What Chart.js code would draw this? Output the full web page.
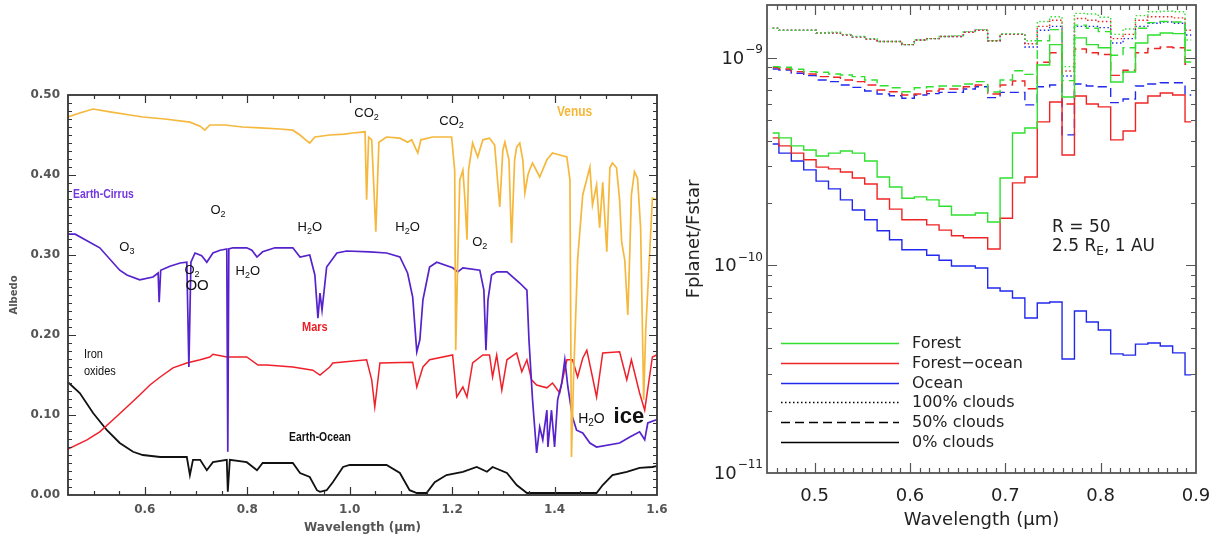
<!DOCTYPE html>
<html>
<head>
<meta charset="utf-8">
<script src="https://cdn.jsdelivr.net/npm/chart.js@4.4.1/dist/chart.umd.min.js"></script>
<style>
  html, body { margin: 0; padding: 0; background: #fff; overflow: hidden; }
  #wrap { position: relative; width: 1231px; height: 541px; }
  #albedo { position: absolute; left: 0; top: 0; }
  #flux { position: absolute; left: 680px; top: 0; }
</style>
</head>
<body>
<div id="wrap">
  <canvas id="albedo" width="680" height="541"></canvas>
  <canvas id="flux" width="551" height="541"></canvas>
</div>
<script>
// ---- left panel: albedo spectra ----
const venusWave = [0.450, 0.473, 0.499, 0.532, 0.571, 0.596, 0.639, 0.688, 0.708, 0.717, 0.727, 0.756, 0.791, 0.825, 0.864, 0.889, 0.903, 0.914, 0.922, 0.932, 0.961, 0.990, 1.006, 1.030, 1.033, 1.037, 1.043, 1.051, 1.057, 1.072, 1.098, 1.113, 1.121, 1.133, 1.139, 1.162, 1.199, 1.205, 1.207, 1.211, 1.215, 1.221, 1.225, 1.229, 1.232, 1.240, 1.250, 1.260, 1.273, 1.283, 1.293, 1.299, 1.303, 1.311, 1.316, 1.322, 1.326, 1.332, 1.338, 1.342, 1.348, 1.351, 1.357, 1.371, 1.385, 1.396, 1.410, 1.424, 1.430, 1.433, 1.437, 1.445, 1.455, 1.469, 1.474, 1.482, 1.488, 1.494, 1.502, 1.508, 1.513, 1.521, 1.527, 1.531, 1.537, 1.543, 1.547, 1.550, 1.556, 1.562, 1.568, 1.574, 1.578, 1.586, 1.591, 1.599];
const venusAlbedo = [0.4725, 0.4775, 0.4825, 0.479, 0.475, 0.4725, 0.47, 0.466, 0.461, 0.456, 0.4625, 0.4625, 0.46, 0.459, 0.4575, 0.456, 0.45, 0.444, 0.44, 0.4475, 0.45, 0.451, 0.4525, 0.454, 0.369, 0.4475, 0.444, 0.329, 0.441, 0.4475, 0.446, 0.441, 0.444, 0.4275, 0.444, 0.4475, 0.4475, 0.406, 0.181, 0.294, 0.394, 0.406, 0.369, 0.319, 0.406, 0.44, 0.4225, 0.444, 0.446, 0.4375, 0.36, 0.431, 0.441, 0.419, 0.315, 0.419, 0.435, 0.44, 0.419, 0.3775, 0.4, 0.406, 0.415, 0.3975, 0.419, 0.4275, 0.425, 0.4225, 0.394, 0.0475, 0.144, 0.294, 0.375, 0.41, 0.3625, 0.3875, 0.334, 0.391, 0.304, 0.409, 0.415, 0.409, 0.369, 0.316, 0.294, 0.225, 0.306, 0.375, 0.404, 0.396, 0.334, 0.119, 0.206, 0.306, 0.371, 0.369];

const cirrusWave = [0.450, 0.464, 0.512, 0.551, 0.565, 0.590, 0.616, 0.626, 0.628, 0.631, 0.649, 0.669, 0.682, 0.686, 0.690, 0.698, 0.711, 0.721, 0.733, 0.747, 0.760, 0.762, 0.764, 0.772, 0.799, 0.809, 0.819, 0.830, 0.854, 0.889, 0.903, 0.922, 0.932, 0.938, 0.942, 0.946, 0.955, 0.975, 0.994, 1.039, 1.072, 1.098, 1.113, 1.123, 1.131, 1.137, 1.143, 1.156, 1.170, 1.201, 1.211, 1.221, 1.254, 1.262, 1.266, 1.270, 1.277, 1.287, 1.307, 1.332, 1.346, 1.350, 1.357, 1.365, 1.371, 1.377, 1.385, 1.387, 1.394, 1.400, 1.406, 1.414, 1.420, 1.426, 1.435, 1.443, 1.455, 1.469, 1.482, 1.527, 1.547, 1.566, 1.576, 1.582, 1.599];
const cirrusAlbedo = [0.326, 0.326, 0.309, 0.281, 0.275, 0.269, 0.2725, 0.2775, 0.241, 0.281, 0.286, 0.29, 0.291, 0.16, 0.291, 0.3025, 0.299, 0.291, 0.3025, 0.306, 0.3075, 0.054, 0.3075, 0.309, 0.309, 0.306, 0.2975, 0.304, 0.309, 0.309, 0.2975, 0.30, 0.275, 0.221, 0.2525, 0.231, 0.285, 0.3025, 0.305, 0.304, 0.3025, 0.2975, 0.2775, 0.2475, 0.179, 0.194, 0.244, 0.285, 0.291, 0.284, 0.279, 0.284, 0.281, 0.256, 0.181, 0.244, 0.275, 0.279, 0.279, 0.265, 0.256, 0.194, 0.119, 0.0525, 0.085, 0.069, 0.106, 0.06, 0.106, 0.06, 0.119, 0.14, 0.169, 0.135, 0.0975, 0.081, 0.0775, 0.065, 0.06, 0.065, 0.0725, 0.079, 0.069, 0.09, 0.094];

const marsWave = [0.450, 0.487, 0.512, 0.538, 0.565, 0.590, 0.610, 0.630, 0.655, 0.682, 0.708, 0.727, 0.733, 0.760, 0.799, 0.821, 0.838, 0.889, 0.928, 0.942, 0.961, 0.967, 1.033, 1.043, 1.049, 1.059, 1.123, 1.131, 1.143, 1.156, 1.201, 1.209, 1.221, 1.229, 1.240, 1.260, 1.273, 1.279, 1.287, 1.297, 1.307, 1.326, 1.336, 1.346, 1.355, 1.365, 1.385, 1.396, 1.410, 1.424, 1.435, 1.445, 1.455, 1.463, 1.474, 1.482, 1.494, 1.527, 1.541, 1.550, 1.566, 1.576, 1.591, 1.599];
const marsAlbedo = [0.0575, 0.069, 0.079, 0.094, 0.11, 0.125, 0.1375, 0.1475, 0.159, 0.165, 0.169, 0.1725, 0.176, 0.1725, 0.1725, 0.1625, 0.1625, 0.16, 0.156, 0.15, 0.16, 0.165, 0.169, 0.144, 0.11, 0.165, 0.166, 0.135, 0.16, 0.169, 0.175, 0.1225, 0.135, 0.1225, 0.165, 0.175, 0.175, 0.1475, 0.175, 0.131, 0.169, 0.1775, 0.154, 0.169, 0.144, 0.1375, 0.134, 0.14, 0.1275, 0.169, 0.169, 0.1475, 0.171, 0.181, 0.1475, 0.1225, 0.1775, 0.179, 0.144, 0.169, 0.1275, 0.106, 0.1725, 0.175];

const oceanWave = [0.450, 0.473, 0.499, 0.526, 0.551, 0.577, 0.596, 0.630, 0.682, 0.688, 0.694, 0.708, 0.721, 0.733, 0.760, 0.762, 0.766, 0.799, 0.819, 0.830, 0.889, 0.903, 0.922, 0.936, 0.942, 0.955, 0.967, 0.987, 1.000, 1.072, 1.098, 1.117, 1.131, 1.150, 1.166, 1.189, 1.221, 1.248, 1.268, 1.279, 1.307, 1.326, 1.346, 1.396, 1.482, 1.494, 1.513, 1.541, 1.566, 1.591, 1.599];
const oceanAlbedo = [0.141, 0.1275, 0.1025, 0.081, 0.065, 0.054, 0.05, 0.0475, 0.0475, 0.025, 0.044, 0.044, 0.031, 0.041, 0.044, 0.004, 0.044, 0.041, 0.031, 0.04, 0.04, 0.0275, 0.0225, 0.006, 0.004, 0.006, 0.016, 0.035, 0.0375, 0.0375, 0.0275, 0.006, 0.0025, 0.0025, 0.016, 0.025, 0.029, 0.035, 0.029, 0.035, 0.0275, 0.0125, 0.0025, 0.0025, 0.0025, 0.0125, 0.025, 0.029, 0.034, 0.035, 0.036];

const albedoXLabels = [0.6, 0.8, 1.0, 1.2, 1.4, 1.6];
const albedoYLabels = [0, 0.1, 0.2, 0.3, 0.4, 0.5];

// ---- right panel: planet/star contrast, R = 50 bins ----
const waveR = [0.456, 0.469, 0.482, 0.495, 0.508, 0.521, 0.533, 0.546, 0.559, 0.572, 0.585, 0.598, 0.611, 0.624, 0.637, 0.650, 0.662, 0.675, 0.688, 0.701, 0.714, 0.727, 0.740, 0.753, 0.766, 0.779, 0.791, 0.804, 0.817, 0.830, 0.843, 0.856, 0.869, 0.882, 0.895];

const forest0 = [4.35e-10, 4.12e-10, 3.77e-10, 3.60e-10, 3.37e-10, 3.48e-10, 3.56e-10, 3.48e-10, 3.19e-10, 2.67e-10, 2.39e-10, 2.11e-10, 2.14e-10, 2.07e-10, 1.93e-10, 1.75e-10, 1.75e-10, 1.79e-10, 1.62e-10, 2.64e-10, 4.35e-10, 4.60e-10, 9.25e-10, 1.16e-9, 6.49e-10, 1.25e-9, 1.16e-9, 1.12e-9, 7.66e-10, 8.56e-10, 1.18e-9, 1.29e-9, 1.32e-9, 1.31e-9, 9.57e-10];
const forestOcean0 = [4.12e-10, 3.77e-10, 3.48e-10, 3.23e-10, 2.98e-10, 2.92e-10, 2.82e-10, 2.64e-10, 2.47e-10, 2.09e-10, 1.87e-10, 1.66e-10, 1.66e-10, 1.57e-10, 1.48e-10, 1.39e-10, 1.36e-10, 1.36e-10, 1.20e-10, 1.69e-10, 2.50e-10, 2.67e-10, 4.92e-10, 6.14e-10, 3.41e-10, 6.56e-10, 6.00e-10, 5.81e-10, 4.03e-10, 4.45e-10, 6.07e-10, 6.56e-10, 6.78e-10, 6.63e-10, 4.92e-10];
const ocean0 = [3.85e-10, 3.48e-10, 3.19e-10, 2.89e-10, 2.55e-10, 2.34e-10, 2.07e-10, 1.85e-10, 1.66e-10, 1.47e-10, 1.33e-10, 1.19e-10, 1.19e-10, 1.12e-10, 1.06e-10, 9.94e-11, 9.94e-11, 9.72e-11, 7.79e-11, 7.54e-11, 6.97e-11, 5.58e-11, 6.60e-11, 6.67e-11, 3.54e-11, 6.03e-11, 5.34e-11, 4.89e-11, 3.75e-11, 3.70e-11, 4.18e-11, 4.23e-11, 4.09e-11, 3.79e-11, 2.97e-11];

const forest50 = [9.08e-10, 9.02e-10, 8.82e-10, 8.59e-10, 8.53e-10, 8.37e-10, 8.28e-10, 8.13e-10, 7.83e-10, 7.35e-10, 7.19e-10, 6.88e-10, 7.19e-10, 7.27e-10, 7.33e-10, 7.33e-10, 7.49e-10, 7.69e-10, 6.86e-10, 7.83e-10, 8.68e-10, 8.34e-10, 1.21e-9, 1.37e-9, 7.78e-10, 1.44e-9, 1.39e-9, 1.34e-9, 1.03e-9, 1.12e-9, 1.39e-9, 1.48e-9, 1.50e-9, 1.49e-9, 1.09e-9];
const forestOcean50 = [8.98e-10, 8.85e-10, 8.59e-10, 8.37e-10, 8.13e-10, 8.07e-10, 7.83e-10, 7.69e-10, 7.41e-10, 7.01e-10, 6.88e-10, 6.63e-10, 6.71e-10, 6.93e-10, 7.09e-10, 7.09e-10, 7.27e-10, 7.41e-10, 6.71e-10, 7.41e-10, 7.75e-10, 7.11e-10, 9.54e-10, 1.06e-9, 6.00e-10, 1.105e-9, 1.06e-9, 1.04e-9, 8.24e-10, 8.72e-10, 1.06e-9, 1.11e-9, 1.13e-9, 1.12e-9, 9.33e-10];
const ocean50 = [8.85e-10, 8.75e-10, 8.44e-10, 8.22e-10, 7.83e-10, 7.69e-10, 7.41e-10, 7.22e-10, 6.93e-10, 6.71e-10, 6.58e-10, 6.40e-10, 6.63e-10, 6.73e-10, 6.83e-10, 6.83e-10, 7.09e-10, 7.27e-10, 6.44e-10, 6.83e-10, 6.83e-10, 5.94e-10, 7.27e-10, 7.41e-10, 4.26e-10, 7.49e-10, 7.33e-10, 7.27e-10, 6.09e-10, 6.34e-10, 7.33e-10, 7.49e-10, 7.60e-10, 7.60e-10, 6.63e-10];

const forest100 = [1.39e-9, 1.36e-9, 1.36e-9, 1.36e-9, 1.32e-9, 1.33e-9, 1.30e-9, 1.27e-9, 1.24e-9, 1.20e-9, 1.20e-9, 1.16e-9, 1.22e-9, 1.24e-9, 1.27e-9, 1.28e-9, 1.34e-9, 1.37e-9, 1.21e-9, 1.31e-9, 1.31e-9, 1.21e-9, 1.50e-9, 1.58e-9, 9.08e-10, 1.64e-9, 1.63e-9, 1.57e-9, 1.30e-9, 1.38e-9, 1.60e-9, 1.67e-9, 1.68e-9, 1.67e-9, 1.22e-9];
const forestOcean100 = [1.39e-9, 1.36e-9, 1.36e-9, 1.36e-9, 1.32e-9, 1.32e-9, 1.29e-9, 1.26e-9, 1.23e-9, 1.20e-9, 1.20e-9, 1.16e-9, 1.22e-9, 1.24e-9, 1.27e-9, 1.27e-9, 1.33e-9, 1.36e-9, 1.21e-9, 1.30e-9, 1.30e-9, 1.17e-9, 1.42e-9, 1.52e-9, 8.66e-10, 1.55e-9, 1.52e-9, 1.50e-9, 1.24e-9, 1.30e-9, 1.52e-9, 1.58e-9, 1.58e-9, 1.56e-9, 1.36e-9];
const ocean100 = [1.39e-9, 1.36e-9, 1.36e-9, 1.36e-9, 1.32e-9, 1.32e-9, 1.29e-9, 1.26e-9, 1.23e-9, 1.20e-9, 1.20e-9, 1.16e-9, 1.22e-9, 1.24e-9, 1.27e-9, 1.27e-9, 1.33e-9, 1.36e-9, 1.21e-9, 1.30e-9, 1.30e-9, 1.13e-9, 1.36e-9, 1.42e-9, 8.19e-10, 1.42e-9, 1.42e-9, 1.40e-9, 1.18e-9, 1.24e-9, 1.42e-9, 1.47e-9, 1.49e-9, 1.47e-9, 1.29e-9];

const fluxXLabels = [0.5, 0.6, 0.7, 0.8, 0.9];
const fluxDecades = [-11, -10, -9];

const GREEN = '#2fe02f', RED = '#f02424', BLUE = '#2229ee';
const DOT = [1.5, 2.5], DASH = [9, 5];

// text with "_x" subscripts
function drawRich(ctx, str, x, y, o) {
  const size = o.size || 13;
  const fam = o.family || '"Liberation Sans", Arial, sans-serif';
  const wt = o.bold ? 'bold ' : '';
  const parts = [];
  for (let i = 0; i < str.length; i++) {
    if (str[i] === '_' && i + 1 < str.length) {
      parts.push({ t: str[i + 1], sub: true });
      i++;
    } else if (parts.length && !parts[parts.length - 1].sub) {
      parts[parts.length - 1].t += str[i];
    } else {
      parts.push({ t: str[i], sub: false });
    }
  }
  const font = p => wt + (p.sub ? Math.round(size * 0.68) : size) + 'px ' + fam;
  let w = 0;
  parts.forEach(p => { ctx.font = font(p); p.w = ctx.measureText(p.t).width; w += p.w; });
  ctx.save();
  ctx.translate(x, y);
  ctx.scale(o.sx || 1, 1);
  ctx.fillStyle = o.color || '#111';
  ctx.textBaseline = 'middle';
  ctx.textAlign = 'left';
  let cx = o.align === 'left' ? 0 : -w / 2;
  parts.forEach(p => {
    ctx.font = font(p);
    ctx.fillText(p.t, cx, p.sub ? size * 0.32 : 0);
    cx += p.w;
  });
  ctx.restore();
}

function drawFrame(chart, xt, yt, color, frameW) {
  const { ctx, chartArea: a, scales: { x, y } } = chart;
  ctx.save();
  ctx.strokeStyle = color;
  ctx.lineWidth = 1.2;
  ctx.beginPath();
  xt.forEach(t => {
    const px = Math.round(x.getPixelForValue(t.v)) + 0.5;
    ctx.moveTo(px, a.bottom); ctx.lineTo(px, a.bottom - t.len);
    ctx.moveTo(px, a.top); ctx.lineTo(px, a.top + t.len);
  });
  yt.forEach(t => {
    const py = Math.round(y.getPixelForValue(t.v)) + 0.5;
    ctx.moveTo(a.left, py); ctx.lineTo(a.left + t.len, py);
    ctx.moveTo(a.right, py); ctx.lineTo(a.right - t.len, py);
  });
  ctx.stroke();
  ctx.lineWidth = frameW;
  ctx.strokeRect(a.left, a.top, a.right - a.left, a.bottom - a.top);
  ctx.restore();
}

// ---------- left chart ----------
const albedoNotes = [
  { text: 'CO_2', x: 1.033, y: 0.4775 },
  { text: 'CO_2', x: 1.199, y: 0.4675 },
  { text: 'Venus', x: 1.439, y: 0.479, color: '#f5b535', bold: true, size: 14, sx: 0.85 },
  { text: 'Earth-Cirrus', x: 0.460, y: 0.376, color: '#7436e0', bold: true, size: 13, sx: 0.8, align: 'left' },
  { text: 'O_2', x: 0.743, y: 0.356 },
  { text: 'H_2O', x: 0.922, y: 0.335 },
  { text: 'O_3', x: 0.565, y: 0.31 },
  { text: 'O_2', x: 0.692, y: 0.281 },
  { text: 'OO', x: 0.702, y: 0.261, size: 15 },
  { text: 'H_2O', x: 0.801, y: 0.279 },
  { text: 'H_2O', x: 1.113, y: 0.334 },
  { text: 'O_2', x: 1.254, y: 0.316 },
  { text: 'Mars', x: 0.932, y: 0.209, color: '#ee1c25', bold: true, size: 13, sx: 0.85 },
  { text: 'Iron', x: 0.481, y: 0.176, align: 'left', sx: 0.85 },
  { text: 'oxides', x: 0.481, y: 0.154, align: 'left', sx: 0.85 },
  { text: 'Earth-Ocean', x: 0.942, y: 0.0725, bold: true, size: 13, sx: 0.8 },
  { text: 'H_2O', x: 1.472, y: 0.095, size: 14 },
  { text: 'ice', x: 1.545, y: 0.0975, bold: true, size: 22 }
];

const albedoDecor = {
  id: 'albedoDecor',
  afterDatasetsDraw(chart) {
    const xt = [], yt = [];
    for (let i = 10; i < 32; i++) xt.push({ v: i * 0.05, len: i % 4 === 0 ? 8 : 4 });
    for (let i = 1; i < 50; i++) yt.push({ v: i / 100, len: i % 10 === 0 ? 8 : 4 });
    drawFrame(chart, xt, yt, '#333', 1.8);
    const { ctx, scales: { x, y } } = chart;
    albedoNotes.forEach(n => drawRich(ctx, n.text, x.getPixelForValue(n.x), y.getPixelForValue(n.y), n));
  }
};

function spectrum(wave, vals, color, width, order) {
  return {
    data: wave.map((w, i) => ({ x: w, y: vals[i] })),
    borderColor: color, borderWidth: width, pointRadius: 0, tension: 0, fill: false, order
  };
}

new Chart(document.getElementById('albedo'), {
  type: 'line',
  data: {
    datasets: [
      spectrum(venusWave, venusAlbedo, '#f5b83d', 1.7, 0),
      spectrum(cirrusWave, cirrusAlbedo, '#5522cc', 1.7, 1),
      spectrum(marsWave, marsAlbedo, '#f0202a', 1.5, 2),
      spectrum(oceanWave, oceanAlbedo, '#111111', 1.8, 3)
    ]
  },
  options: {
    responsive: false,
    animation: false,
    devicePixelRatio: 1,
    layout: { padding: { left: 0, right: 23, top: 95, bottom: 0 } },
    plugins: { legend: { display: false }, tooltip: { enabled: false } },
    scales: {
      x: {
        type: 'linear', min: 0.45, max: 1.6,
        afterBuildTicks: s => { s.ticks = albedoXLabels.map(v => ({ value: v })); },
        afterFit: s => { s.height = 46; },
        grid: { display: false, drawTicks: false },
        border: { display: false },
        ticks: {
          color: '#555', padding: 8, maxRotation: 0, autoSkip: false,
          font: { family: 'DejaVu Sans', size: 12, weight: 'bold' },
          callback: v => v.toFixed(1)
        },
        title: {
          display: true, text: 'Wavelength (\u03bcm)', color: '#555',
          font: { family: 'DejaVu Sans', size: 12, weight: 'bold' },
          padding: { top: 0, bottom: 6 }
        }
      },
      y: {
        type: 'linear', min: 0, max: 0.5,
        afterBuildTicks: s => { s.ticks = albedoYLabels.map(v => ({ value: v })); },
        afterFit: s => { s.width = 68; },
        grid: { display: false, drawTicks: false },
        border: { display: false },
        ticks: {
          color: '#555', padding: 8,
          font: { family: 'DejaVu Sans', size: 12, weight: 'bold' },
          callback: v => v.toFixed(2)
        },
        title: {
          display: true, text: 'Albedo', color: '#555',
          font: { family: 'DejaVu Sans', size: 10, weight: 'bold' },
          padding: { top: 8, bottom: 0 }
        }
      }
    }
  },
  plugins: [albedoDecor]
});

// ---------- right chart ----------
const legendRows = [
  { label: 'Forest', color: GREEN, dash: [] },
  { label: 'Forest\u2212ocean', color: RED, dash: [] },
  { label: 'Ocean', color: BLUE, dash: [] },
  { label: '100% clouds', color: '#000', dash: DOT },
  { label: '50% clouds', color: '#000', dash: DASH },
  { label: '0% clouds', color: '#000', dash: [] }
];

const fluxDecor = {
  id: 'fluxDecor',
  afterDatasetsDraw(chart) {
    const xt = [], yt = [];
    for (let i = 46; i < 90; i++) xt.push({ v: i / 100, len: i % 10 === 0 ? 10 : 5 });
    fluxDecades.forEach(e => {
      if (e !== -11) yt.push({ v: Math.pow(10, e), len: 10 });
      if (e < -9) for (let m = 2; m < 10; m++) yt.push({ v: m * Math.pow(10, e), len: 5 });
    });
    drawFrame(chart, xt, yt, '#555', 1.8);

    const { ctx, chartArea: a, scales: { x, y } } = chart;
    // y tick labels 10^n
    fluxDecades.forEach(e => {
      const py = y.getPixelForValue(Math.pow(10, e));
      ctx.save();
      ctx.fillStyle = '#222';
      ctx.textBaseline = 'middle';
      ctx.textAlign = 'right';
      ctx.font = '12px "DejaVu Sans"';
      const ex = '\u2212' + Math.abs(e);
      const ew = ctx.measureText(ex).width;
      ctx.fillText(ex, a.left - 4, py - 8);
      ctx.font = '18px "DejaVu Sans"';
      ctx.fillText('10', a.left - 5 - ew, py + 1);
      ctx.restore();
    });

    // annotation
    const fam = '"DejaVu Sans", sans-serif';
    drawRich(ctx, 'R = 50', x.getPixelForValue(0.749), y.getPixelForValue(1.52e-10), { size: 17, family: fam, align: 'left', color: '#222' });
    drawRich(ctx, '2.5 R_E, 1 AU', x.getPixelForValue(0.749), y.getPixelForValue(1.23e-10), { size: 17, family: fam, align: 'left', color: '#222' });

    // legend
    ctx.save();
    legendRows.forEach((r, i) => {
      const py = Math.round(a.bottom - 130 + i * 19.8) + 0.5;
      ctx.strokeStyle = r.color;
      ctx.lineWidth = 1.4;
      ctx.setLineDash(r.dash);
      ctx.beginPath();
      ctx.moveTo(a.left + 14, py);
      ctx.lineTo(a.left + 132, py);
      ctx.stroke();
      ctx.setLineDash([]);
      ctx.fillStyle = '#222';
      ctx.font = '16px ' + fam;
      ctx.textBaseline = 'middle';
      ctx.textAlign = 'left';
      ctx.fillText(r.label, a.left + 145, py);
    });
    ctx.restore();
  }
};

function stepSet(vals, color, dash, order) {
  return {
    data: waveR.map((w, i) => ({ x: w, y: vals[i] })),
    borderColor: color, borderWidth: 1.4, borderDash: dash,
    stepped: 'middle', pointRadius: 0, fill: false, order
  };
}

new Chart(document.getElementById('flux'), {
  type: 'line',
  data: {
    datasets: [
      stepSet(forest0, GREEN, [], 0),
      stepSet(forestOcean0, RED, [], 1),
      stepSet(ocean0, BLUE, [], 2),
      stepSet(forest50, GREEN, DASH, 3),
      stepSet(forestOcean50, RED, DASH, 4),
      stepSet(ocean50, BLUE, DASH, 5),
      stepSet(forest100, GREEN, DOT, 6),
      stepSet(forestOcean100, RED, DOT, 7),
      stepSet(ocean100, BLUE, DOT, 8)
    ]
  },
  options: {
    responsive: false,
    animation: false,
    devicePixelRatio: 1,
    layout: { padding: { left: 0, right: 35, top: 5, bottom: 0 } },
    plugins: { legend: { display: false }, tooltip: { enabled: false } },
    scales: {
      x: {
        type: 'linear', min: 0.45, max: 0.9,
        afterBuildTicks: s => { s.ticks = fluxXLabels.map(v => ({ value: v })); },
        afterFit: s => { s.height = 68; },
        grid: { display: false, drawTicks: false },
        border: { display: false },
        ticks: {
          color: '#222', padding: 13, maxRotation: 0, autoSkip: false,
          font: { family: 'DejaVu Sans', size: 18 },
          callback: v => v.toFixed(1)
        },
        title: {
          display: true, text: 'Wavelength (\u03bcm)', color: '#222',
          font: { family: 'DejaVu Sans', size: 18 },
          padding: { top: 0, bottom: 10 }
        }
      },
      y: {
        type: 'logarithmic', min: 1e-11, max: 1.8e-9,
        afterFit: s => { s.width = 87; },
        grid: { display: false, drawTicks: false },
        border: { display: false },
        ticks: { display: false },
        title: {
          display: true, text: 'Fplanet/Fstar', color: '#222',
          font: { family: 'DejaVu Sans', size: 18 },
          padding: { top: 4, bottom: 0 }
        }
      }
    }
  },
  plugins: [fluxDecor]
});
</script>
</body>
</html>
